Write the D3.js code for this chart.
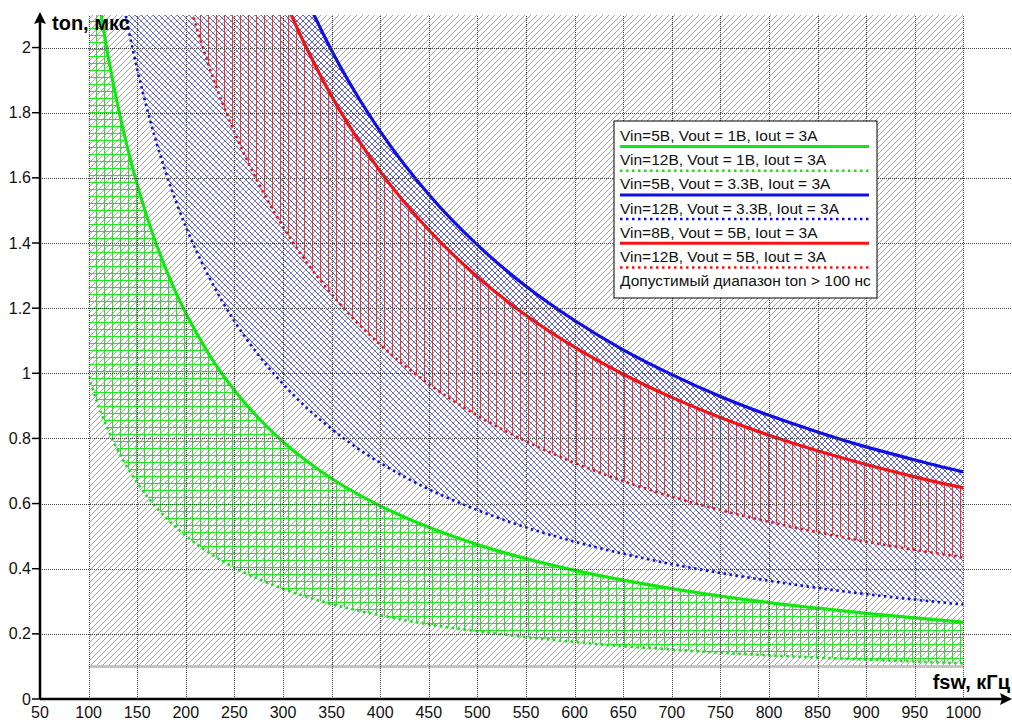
<!DOCTYPE html>
<html>
<head>
<meta charset="utf-8">
<script src="https://cdn.jsdelivr.net/npm/d3@7"></script>
<style>
  body { margin: 0; background: #fff; }
  svg { display: block; font-family: Arial, "Liberation Sans", sans-serif; }
</style>
</head>
<body>
<div id="container"></div>
<script>
// fsw, кГц
const fsw = [100, 110, 120, 130, 140, 150, 160, 170, 180, 190, 200, 225, 250, 275, 300, 325, 350, 375, 400,
             450, 500, 550, 600, 650, 700, 750, 800, 850, 900, 950, 1000];

// ton, мкс
const ton5v1 = [2.370, 2.155, 1.975, 1.823, 1.693, 1.580, 1.481, 1.394, 1.317, 1.247, 1.185, 1.053, 0.948, 0.862, 0.790, 0.729, 0.677, 0.632, 0.593,
                0.527, 0.474, 0.431, 0.395, 0.365, 0.339, 0.316, 0.296, 0.279, 0.263, 0.249, 0.236];
const ton12v1 = [0.990, 0.901, 0.827, 0.764, 0.711, 0.664, 0.623, 0.587, 0.555, 0.527, 0.501, 0.447, 0.403, 0.368, 0.338, 0.313, 0.291, 0.273, 0.257,
                 0.229, 0.208, 0.190, 0.175, 0.162, 0.152, 0.142, 0.134, 0.127, 0.121, 0.115, 0.110];
const ton5v33 = [6.970, 6.336, 5.808, 5.362, 4.979, 4.647, 4.356, 4.100, 3.872, 3.668, 3.485, 3.098, 2.788, 2.535, 2.323, 2.145, 1.991, 1.859, 1.743,
                 1.549, 1.394, 1.267, 1.162, 1.072, 0.996, 0.929, 0.871, 0.820, 0.774, 0.734, 0.697];
const ton12v33 = [2.900, 2.636, 2.417, 2.231, 2.071, 1.933, 1.813, 1.706, 1.611, 1.526, 1.450, 1.289, 1.160, 1.055, 0.967, 0.892, 0.829, 0.773, 0.725,
                  0.644, 0.580, 0.527, 0.483, 0.446, 0.414, 0.387, 0.363, 0.341, 0.322, 0.305, 0.290];
const ton8v5 = [6.480, 5.891, 5.400, 4.985, 4.629, 4.320, 4.050, 3.812, 3.600, 3.411, 3.240, 2.880, 2.592, 2.356, 2.160, 1.994, 1.851, 1.728, 1.620,
                1.440, 1.296, 1.178, 1.080, 0.997, 0.926, 0.864, 0.810, 0.762, 0.720, 0.682, 0.648];
const ton12v5 = [4.350, 3.955, 3.625, 3.346, 3.107, 2.900, 2.719, 2.559, 2.417, 2.289, 2.175, 1.933, 1.740, 1.582, 1.450, 1.338, 1.243, 1.160, 1.088,
                 0.967, 0.870, 0.791, 0.725, 0.669, 0.621, 0.580, 0.544, 0.512, 0.483, 0.458, 0.435];

// допустимый диапазон
const tonMin = 0.1;
const fswRange = [100, 1000];

const xTicks = d3.range(50, 1001, 50);
const yTicks = [0, 0.2, 0.4, 0.6, 0.8, 1, 1.2, 1.4, 1.6, 1.8, 2];

const legendLabels = [
  "Vin=5В, Vout = 1В, Iout = 3А",
  "Vin=12В, Vout = 1В, Iout = 3А",
  "Vin=5В, Vout = 3.3В, Iout = 3А",
  "Vin=12В, Vout = 3.3В, Iout = 3А",
  "Vin=8В, Vout = 5В, Iout = 3А",
  "Vin=12В, Vout = 5В, Iout = 3А",
  "Допустимый диапазон ton > 100 нс"
];

const width = 1012;
const height = 720;
const marginLeft = 40;
const marginBottom = 21;
const marginTop = 15;

const x = d3.scaleLinear().domain([50, 1050]).range([marginLeft, width]);
const y = d3.scaleLinear().domain([0, 2.1]).range([height - marginBottom, marginTop]);

const green = "#14e614", blue = "#0f0fe6", red = "#f01414";

const series = [
  { v: ton5v1, color: green, dotted: false },
  { v: ton12v1, color: green, dotted: true },
  { v: ton5v33, color: blue, dotted: false },
  { v: ton12v33, color: blue, dotted: true },
  { v: ton8v5, color: red, dotted: false },
  { v: ton12v5, color: red, dotted: true }
];

const svg = d3.create("svg")
  .attr("width", width)
  .attr("height", height);

const defs = svg.append("defs");

defs.append("clipPath").attr("id", "plot")
  .append("rect")
  .attr("x", x(fswRange[0]))
  .attr("y", y(2.1))
  .attr("width", x(fswRange[1]) - x(fswRange[0]))
  .attr("height", y(0) - y(2.1));

function pattern(id, w, h, d, color, sw) {
  defs.append("pattern")
    .attr("id", id)
    .attr("patternUnits", "userSpaceOnUse")
    .attr("width", w)
    .attr("height", h)
    .append("path")
    .attr("d", d)
    .attr("stroke", color)
    .attr("stroke-width", sw)
    .attr("shape-rendering", "crispEdges")
    .attr("fill", "none");
}

const slash = "M-1,1 l2,-2 M0,6 l6,-6 M5,7 l2,-2";
const backslash = "M-1,5 l2,2 M0,0 l6,6 M5,-1 l2,2";
pattern("hGrey", 6, 6, slash, "#a6a6a6", 1);
pattern("hBlue", 6, 6, backslash, "#5a5ae8", 1);
pattern("hDark", 6, 6, slash, "#70708c", 1);
pattern("hGreen", 8, 7, "M0,0.5 H8 M0.5,0 V7", "#22e622", 1);
pattern("hRed", 8, 8, "M0.5,0 V8", "#ff2e2e", 1);

const plot = svg.append("g").attr("clip-path", "url(#plot)");

// allowed region
plot.append("rect")
  .attr("x", x(fswRange[0]))
  .attr("y", y(2.1))
  .attr("width", x(fswRange[1]) - x(fswRange[0]))
  .attr("height", y(tonMin) - y(2.1))
  .attr("fill", "url(#hGrey)");

const band = (lo, hi) => d3.area()
  .x((d, i) => x(fsw[i]))
  .y0((d, i) => y(lo[i]))
  .y1((d, i) => y(hi[i]))
  .curve(d3.curveMonotoneX)(fsw);

plot.append("path").attr("d", band(ton12v1, ton5v1)).attr("fill", "url(#hGreen)");
plot.append("path").attr("d", band(ton8v5, ton5v33)).attr("fill", "url(#hDark)");
plot.append("path").attr("d", band(ton12v33, ton5v33)).attr("fill", "url(#hBlue)");
plot.append("path").attr("d", band(ton12v5, ton8v5)).attr("fill", "url(#hRed)");

// grey line ton = 100 ns
svg.append("line")
  .attr("x1", x(fswRange[0]))
  .attr("x2", x(fswRange[1]))
  .attr("y1", y(tonMin))
  .attr("y2", y(tonMin))
  .attr("stroke", "#c4c4c4")
  .attr("stroke-width", 3);

// grid
const grid = svg.append("g")
  .attr("stroke", "#444")
  .attr("stroke-width", 1)
  .attr("stroke-dasharray", "1,1")
  .attr("shape-rendering", "crispEdges");

grid.selectAll(".gx")
  .data(xTicks.filter(d => d >= 100))
  .enter().append("line")
  .attr("x1", d => Math.round(x(d)) + 0.5)
  .attr("x2", d => Math.round(x(d)) + 0.5)
  .attr("y1", y(0))
  .attr("y2", y(2.1));

grid.selectAll(".gy")
  .data(yTicks.filter(d => d > 0))
  .enter().append("line")
  .attr("x1", marginLeft)
  .attr("x2", width)
  .attr("y1", d => Math.round(y(d)) + 0.5)
  .attr("y2", d => Math.round(y(d)) + 0.5);

// curves
const line = d3.line()
  .x((d, i) => x(fsw[i]))
  .y(d => y(d))
  .curve(d3.curveMonotoneX);

plot.selectAll(".curve")
  .data(series)
  .enter().append("path")
  .attr("class", "curve")
  .attr("d", d => line(d.v))
  .attr("fill", "none")
  .attr("stroke", d => d.color)
  .attr("stroke-width", d => d.dotted ? 2.6 : 3.2)
  .attr("stroke-dasharray", d => d.dotted ? "2.5,3.5" : null);

// axes
svg.append("line")
  .attr("x1", x(50)).attr("x2", width - 8)
  .attr("y1", y(0)).attr("y2", y(0))
  .attr("stroke", "#000").attr("stroke-width", 2.5);
svg.append("path")
  .attr("d", `M${width},${y(0)} L${width - 12},${y(0) - 6} L${width - 10},${y(0)} L${width - 12},${y(0) + 6} Z`)
  .attr("fill", "#000");

svg.append("line")
  .attr("x1", x(50)).attr("x2", x(50))
  .attr("y1", y(0)).attr("y2", 20)
  .attr("stroke", "#000").attr("stroke-width", 2.5);
svg.append("path")
  .attr("d", `M${x(50)},12 L${x(50) - 6},24 L${x(50)},22 L${x(50) + 6},24 Z`)
  .attr("fill", "#000");

svg.selectAll(".ytick")
  .data(yTicks)
  .enter().append("line")
  .attr("x1", marginLeft - 8).attr("x2", marginLeft)
  .attr("y1", d => y(d)).attr("y2", d => y(d))
  .attr("stroke", "#000").attr("stroke-width", 1.5);

svg.selectAll(".ylabel")
  .data(yTicks)
  .enter().append("text")
  .attr("x", marginLeft - 9)
  .attr("y", d => y(d) + 5.5)
  .attr("text-anchor", "end")
  .attr("font-size", 16)
  .attr("fill", "#111")
  .text(d => d);

svg.selectAll(".xlabel")
  .data(xTicks)
  .enter().append("text")
  .attr("x", d => x(d))
  .attr("y", 718)
  .attr("text-anchor", "middle")
  .attr("font-size", 16)
  .attr("fill", "#111")
  .text(d => d);

svg.append("text")
  .attr("x", 52).attr("y", 30)
  .attr("font-size", 20).attr("font-weight", "bold")
  .text("ton, мкс");

svg.append("text")
  .attr("x", 1010).attr("y", 689)
  .attr("text-anchor", "end")
  .attr("font-size", 20).attr("font-weight", "bold")
  .text("fsw, кГц");

// legend
const lg = svg.append("g").attr("transform", "translate(614,121)");
lg.append("rect")
  .attr("width", 263).attr("height", 177)
  .attr("fill", "#fff").attr("stroke", "#000").attr("stroke-width", 1);

const rows = lg.selectAll(".row")
  .data(legendLabels)
  .enter().append("g")
  .attr("transform", (d, i) => `translate(0,${i * 24.2})`);

rows.append("text")
  .attr("x", 6).attr("y", 20)
  .attr("font-size", 15.5)
  .attr("fill", "#111")
  .text(d => d);

rows.filter((d, i) => i < series.length)
  .append("line")
  .attr("x1", 6).attr("x2", 255)
  .attr("y1", 25.5).attr("y2", 25.5)
  .attr("stroke", (d, i) => series[i].color)
  .attr("stroke-width", (d, i) => series[i].dotted ? 2.5 : 3)
  .attr("stroke-dasharray", (d, i) => series[i].dotted ? "2.5,3.5" : null);

container.appendChild(svg.node());
</script>
</body>
</html>
